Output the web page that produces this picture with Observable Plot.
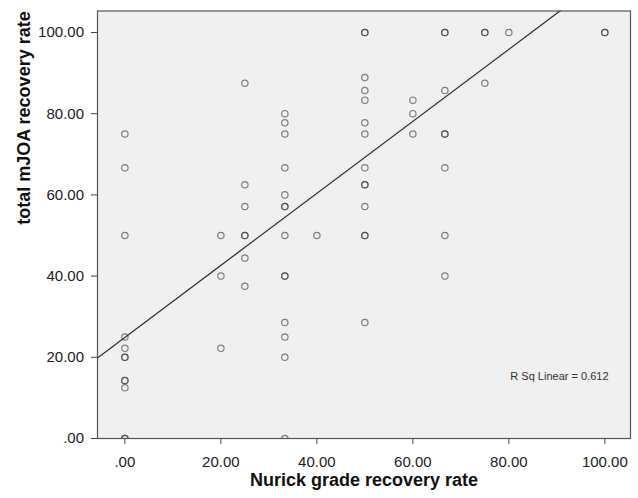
<!DOCTYPE html>
<html><head><meta charset="utf-8">
<script src="https://cdn.jsdelivr.net/npm/d3@7"></script>
<script src="https://cdn.jsdelivr.net/npm/@observablehq/plot@0.6"></script>
<style>html,body{margin:0;padding:0;background:#fff;}</style>
</head><body><div id="chart"></div>
<script>
// Nurick grade recovery rate (x) and total mJOA recovery rate (y), one entry per patient
const nurick = [
  0,0,0,0,0,0,0,0,0,0,0,0,
  20,20,20,
  25,25,25,25,25,25,25,
  33.33,33.33,33.33,33.33,33.33,33.33,33.33,33.33,33.33,33.33,33.33,33.33,33.33,33.33,
  40,
  50,50,50,50,50,50,50,50,50,50,50,50,50,50,
  60,60,60,
  66.67,66.67,66.67,66.67,66.67,66.67,66.67,66.67,
  75,75,75,
  80,
  100,100
];
const mjoa = [
  75,66.67,50,25,22.22,20,20,14.29,14.29,12.5,0,0,
  50,40,22.22,
  87.5,62.5,57.14,50,50,44.44,37.5,
  80,77.78,75,66.67,60,57.14,57.14,50,40,40,28.57,25,20,0,
  50,
  100,100,88.89,85.71,83.33,77.78,75,66.67,62.5,62.5,57.14,50,50,28.57,
  83.33,80,75,
  100,100,85.71,75,75,66.67,50,40,
  100,100,87.5,
  100,
  100,100
];
const xTicks = [0, 20, 40, 60, 80, 100];
const yTicks = [0, 20, 40, 60, 80, 100];
const xTitle = "Nurick grade recovery rate";
const yTitle = "total mJOA recovery rate";
const rSqLabel = "R Sq Linear = 0.612";
// linear fit
const fitIntercept = 24.9;
const fitSlope = 0.887;
const xDomain = [-5.7, 105.35];
const yDomain = [0, 105.3];

const fmt = d => d === 0 ? ".00" : d.toFixed(2);
const points = nurick.map((x, i) => ({x, y: mjoa[i]}));
const fitLine = xDomain.map(x => ({x, y: fitIntercept + fitSlope * x}));

const chart = Plot.plot({
  width: 638, height: 498,
  marginLeft: 97, marginRight: 8, marginTop: 10.5, marginBottom: 60,
  style: {fontFamily: "'Liberation Sans', Arial, sans-serif", fontSize: "15px", color: "#222", background: "#fff"},
  x: {domain: xDomain},
  y: {domain: yDomain},
  marks: [
    Plot.frame({fill: "#f0f0f0", stroke: null}),
    Plot.dot(points, {x: "x", y: "y", r: 3.2, stroke: "#333", strokeOpacity: 0.6, strokeWidth: 1.2, clip: true}),
    Plot.line(fitLine, {x: "x", y: "y", stroke: "#333", strokeWidth: 1.3, clip: true}),
    Plot.frame({stroke: "#555", strokeWidth: 1.2}),
    Plot.axisX(xTicks, {tickSize: 6, tickPadding: 12, tickFormat: fmt, label: null, stroke: "#444", fill: "#222", fontSize: 15}),
    Plot.axisY(yTicks, {tickSize: 6, tickPadding: 7.5, tickFormat: fmt, label: null, stroke: "#444", fill: "#222", fontSize: 15}),
    Plot.text([rSqLabel], {text: d => d, frameAnchor: "bottom-right", dx: -22, dy: -59, textAnchor: "end", fontSize: 11, fill: "#333"}),
    Plot.text([xTitle], {text: d => d, frameAnchor: "bottom", dy: 47, fontWeight: "bold", fontSize: 18, fill: "#111"}),
    Plot.text([yTitle], {text: d => d, frameAnchor: "left", dx: -73, rotate: -90, fontWeight: "bold", fontSize: 18, fill: "#111"})
  ]
});
document.getElementById("chart").appendChild(chart);
</script>
</body></html>
